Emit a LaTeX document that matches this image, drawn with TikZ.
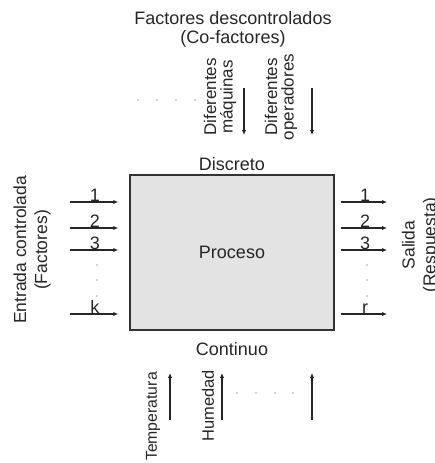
\documentclass[tikz,border=0pt]{standalone}
\usepackage{fontspec}
\setmainfont{Liberation Sans}
\usetikzlibrary{arrows.meta, positioning, calc}

\tikzset{
  lbl/.style={font=\fontsize{18}{19}\selectfont, text=black!85, inner sep=0pt},
  vlbl/.style={lbl, rotate=90, align=center},
  num/.style={lbl, anchor=base, yshift=1pt},
  arr/.style={-{Latex[length=5pt,width=4.5pt]}, line width=1.3pt, black!85},
  dotc/.style={gray!45},
}

\begin{document}
\begin{tikzpicture}[x=1pt, y=-1pt]
    \useasboundingbox (0,0) rectangle (434,463);
    % Title
    \node[lbl, align=center] (titulo) at (233,29) {Factores descontrolados\\(Co-factores)};
    % Process box
    \node[lbl, draw=black!80, line width=1.5pt, fill=gray!22, minimum width=204pt,
          minimum height=155pt] (proceso) at (232,252.5) {Proceso};
    \node[lbl, above=3pt of proceso] (discreto) {Discreto};
    \node[lbl, below=12pt of proceso] (continuo) {Continuo};
    % Uncontrolled factors (top)
    \node[vlbl, font=\fontsize{17}{16.5}\selectfont] (maquinas) at (220,97) {Diferentes\\máquinas};
    \node[vlbl, font=\fontsize{17}{16.5}\selectfont] (operadores) at (281,97) {Diferentes\\operadores};
    \coordinate (maqA) at (244,88);
    \coordinate (maqB) at (244,135);
    \coordinate (opeA) at (312,88);
    \coordinate (opeB) at (312,135);
    \draw[arr] (maqA) -- (maqB);
    \draw[arr] (opeA) -- (opeB);
    \fill[dotc] (138,100) circle (1.2pt);
    \fill[dotc] (157,100) circle (1.2pt);
    \fill[dotc] (176,100) circle (1.2pt);
    \fill[dotc] (195,100) circle (1.2pt);
    % Controlled inputs (left)
    \node[vlbl, font=\fontsize{17.5}{21}\selectfont] (entrada) at (32,250) {Entrada controlada\\(Factores)};
    \coordinate (e1) at (70,202);
    \coordinate (e2) at (70,228);
    \coordinate (e3) at (70,250);
    \coordinate (ek) at (70,314);
    \draw[arr, shorten >=11pt] (e1) -- (e1 -| proceso.west) node[num, pos=0.42] {1};
    \draw[arr, shorten >=11pt] (e2) -- (e2 -| proceso.west) node[num, pos=0.42] {2};
    \draw[arr, shorten >=11pt] (e3) -- (e3 -| proceso.west) node[num, pos=0.42] {3};
    \draw[arr, shorten >=11pt] (ek) -- (ek -| proceso.west) node[num, pos=0.42] {k};
    \fill[dotc] (97,265) circle (1.2pt);
    \fill[dotc] (97,280) circle (1.2pt);
    \fill[dotc] (97,296) circle (1.2pt);
    % Outputs (right)
    \node[vlbl, font=\fontsize{17.5}{21}\selectfont] (salida) at (420.5,245) {Salida\\(Respuesta)};
    \coordinate (s1) at (387,202);
    \coordinate (s2) at (387,228);
    \coordinate (s3) at (387,250);
    \coordinate (sr) at (387,314);
    \draw[arr, shorten <=6pt] (s1 -| proceso.east) -- (s1) node[num, pos=0.58] {1};
    \draw[arr, shorten <=6pt] (s2 -| proceso.east) -- (s2) node[num, pos=0.58] {2};
    \draw[arr, shorten <=6pt] (s3 -| proceso.east) -- (s3) node[num, pos=0.58] {3};
    \draw[arr, shorten <=6pt] (sr -| proceso.east) -- (sr) node[num, pos=0.58] {r};
    \fill[dotc] (367,265) circle (1.2pt);
    \fill[dotc] (367,280) circle (1.2pt);
    \fill[dotc] (367,296) circle (1.2pt);
    % Continuous factors (bottom)
    \node[vlbl, font=\fontsize{15.8}{17}\selectfont, anchor=east] (temperatura) at (153,372) {Temperatura};
    \node[vlbl, font=\fontsize{16.5}{17}\selectfont, anchor=east] (humedad) at (208,370) {Humedad};
    \coordinate (temA) at (170,420);
    \coordinate (temB) at (170,373);
    \coordinate (humA) at (222,420);
    \coordinate (humB) at (222,373);
    \coordinate (otrA) at (312,420);
    \coordinate (otrB) at (312,373);
    \draw[arr] (temA) -- (temB);
    \draw[arr] (humA) -- (humB);
    \draw[arr] (otrA) -- (otrB);
    \fill[dotc] (237,393) circle (1.2pt);
    \fill[dotc] (256,393) circle (1.2pt);
    \fill[dotc] (275,393) circle (1.2pt);
    \fill[dotc] (293,393) circle (1.2pt);
\end{tikzpicture}
\end{document}
